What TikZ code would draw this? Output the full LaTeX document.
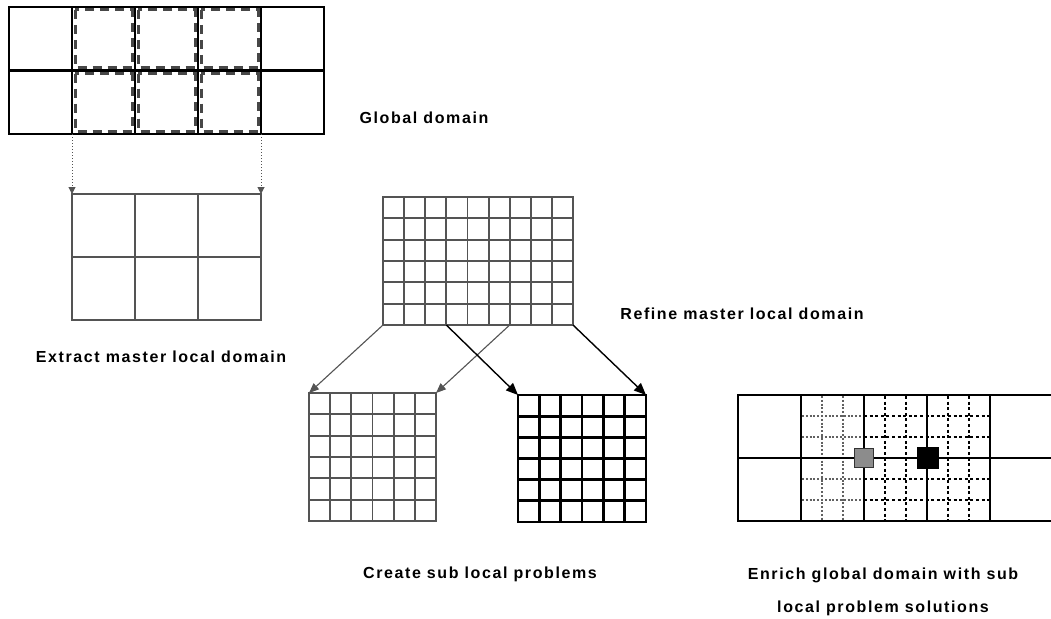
\documentclass[tikz,border=0pt]{standalone}
\usepackage{fontspec}
\newfontfamily\lblfont{Liberation Sans}[LetterSpace=10]
\usetikzlibrary{arrows.meta}
\definecolor{mgray}{gray}{0.33}
\tikzset{
  lbl/.style={font=\lblfont\bfseries\fontsize{16}{19}\selectfont, anchor=base, inner sep=0pt},
  region/.style={draw=none, inner sep=0pt, outer sep=0pt},
  blackgrid/.style={draw=black, line width=2.4pt},
  graygrid/.style={draw=mgray, line width=1.9pt},
  boldgrid/.style={draw=black, line width=2.8pt},
  inset/.style={draw=black!72, line width=3pt, dash pattern=on 9pt off 6pt},
  extarrow/.style={draw=mgray, line width=1pt, dotted, -{Triangle[length=7pt,width=7pt]}},
  grayarrow/.style={draw=mgray, line width=1.1pt, -{Triangle[length=10pt,width=8pt]}},
  blackarrow/.style={draw=black, line width=1.4pt, -{Triangle[length=12pt,width=10pt]}},
  grayfine/.style={draw=black!62, line width=2.2pt, dash pattern=on 2pt off 1.8pt},
  blackfine/.style={draw=black, line width=2.6pt, dash pattern=on 3pt off 2.6pt},
}
\begin{document}
\begin{tikzpicture}[x=1pt,y=-1pt]
\useasboundingbox (0,0) rectangle (1051,618);
\fill[white] (0,0) rectangle (1051,618);

% ---------- Global domain ----------
\node[region, minimum width=315pt, minimum height=127pt] (gd) at (166.5,70.5) {};
\foreach \c in {0,1,2}{\foreach \r in {0,1}{
  \draw[inset] ({72+63*\c+3},{7+63.5*\r+3}) rectangle ({72+63*(\c+1)-3},{7+63.5*(\r+1)-3});
}}
\draw[blackgrid] (gd.north west) rectangle (gd.south east);
\foreach \xx in {72,135,198,261} \draw[blackgrid] (\xx,7) -- (\xx,134);
\draw[blackgrid] (9,70.5) -- (324,70.5);
\coordinate (gL) at (72,134);
\coordinate (gR) at (261,134);

% ---------- Master local domain ----------
\node[region, minimum width=189pt, minimum height=126pt] (ml) at (166.5,257) {};
\draw[graygrid] (ml.north west) rectangle (ml.south east);
\foreach \xx in {135,198} \draw[graygrid] (\xx,194) -- (\xx,320);
\draw[graygrid] (72,257) -- (261,257);
\draw[extarrow] (gL) -- (ml.north west);
\draw[extarrow] (gR) -- (ml.north east);

% ---------- Refined master local domain ----------
\node[region, minimum width=190pt, minimum height=128pt] (rf) at (478,261) {};
\draw[graygrid] (rf.north west) rectangle (rf.south east);
\foreach \i in {1,...,8} \draw[graygrid] ({383+190/9*\i},197) -- ({383+190/9*\i},325);
\foreach \j in {1,...,5} \draw[graygrid] (383,{197+128/6*\j}) -- (573,{197+128/6*\j});
\coordinate (rf3) at ({383+190/9*3},325);
\coordinate (rf6) at ({383+190/9*6},325);

% ---------- Sub local problems ----------
\node[region, minimum width=127pt, minimum height=128pt] (s1) at (372.5,457) {};
\draw[graygrid] (s1.north west) rectangle (s1.south east);
\foreach \i in {1,...,5} \draw[graygrid] ({309+127/6*\i},393) -- ({309+127/6*\i},521);
\foreach \j in {1,...,5} \draw[graygrid] (309,{393+128/6*\j}) -- (436,{393+128/6*\j});

\node[region, minimum width=128pt, minimum height=127pt] (s2) at (582,458.5) {};
\draw[boldgrid] (s2.north west) rectangle (s2.south east);
\foreach \i in {1,...,5} \draw[boldgrid] ({518+128/6*\i},395) -- ({518+128/6*\i},522);
\foreach \j in {1,...,5} \draw[boldgrid] (518,{395+127/6*\j}) -- (646,{395+127/6*\j});

\draw[grayarrow] (rf.south west) -- (s1.north west);
\draw[grayarrow] (rf6) -- (s1.north east);
\draw[blackarrow] (rf3) -- (s2.north west);
\draw[blackarrow] (rf.south east) -- (s2.north east);

% ---------- Enriched global domain ----------
\node[region, minimum width=315pt, minimum height=126pt] (eg) at (895.5,458) {};
\foreach \xx in {822,843} \draw[grayfine] (\xx,396) -- (\xx,520);
\foreach \xx in {885,906,948,969} \draw[blackfine] (\xx,396) -- (\xx,520);
\foreach \yy in {416,437,479,500} {
  \draw[grayfine] (802,\yy) -- (864,\yy);
  \draw[blackfine] (864,\yy) -- (989,\yy);
}
\begin{scope}
\clip (0,0) rectangle (1051,618);
\draw[blackgrid] (eg.north west) rectangle (eg.south east);
\foreach \xx in {801,864,927,990} \draw[blackgrid] (\xx,395) -- (\xx,521);
\draw[blackgrid] (738,458) -- (1053,458);
\end{scope}
\node[draw=black!80, fill=black!45, line width=1.3pt, minimum size=19pt, inner sep=0pt] (sqg) at (864,458) {};
\node[draw=black, fill=black, minimum size=21pt, inner sep=0pt] (sqb) at (928,458) {};

% ---------- Labels ----------
\node[lbl] (tg) at (424,123) {Global domain};
\node[lbl] (te) at (161,362) {Extract master local domain};
\node[lbl] (tr) at (742,319) {Refine master local domain};
\node[lbl] (tc) at (480,578) {Create sub local problems};
\node[lbl] (tn1) at (883,579) {Enrich global domain with sub};
\node[lbl] (tn2) at (883,612) {local problem solutions};
\end{tikzpicture}
\end{document}
